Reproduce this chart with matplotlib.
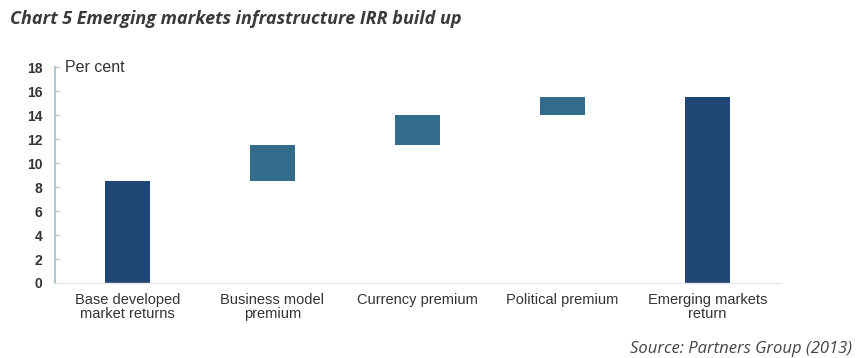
#!/usr/bin/env python3

"""Waterfall chart of the emerging markets infrastructure IRR build up."""

import matplotlib
matplotlib.use("Agg")
import matplotlib.pyplot as plt

categories = ["Base developed\nmarket returns", "Business model\npremium",
              "Currency premium", "Political premium", "Emerging markets\nreturn"]
# size of each step (per cent); first and last are totals drawn from zero
steps = [8.5, 3.0, 2.5, 1.5, 15.5]
is_total = [True, False, False, False, True]
yticks = [0, 2, 4, 6, 8, 10, 12, 14, 16, 18]

DARK = "#1f4674"
LIGHT = "#336b8a"
AXIS = "#a7c2c9"
TEXT = "#333333"


def main():
    plt.rcParams["font.family"] = ["Liberation Sans", "DejaVu Sans"]
    fig = plt.figure(figsize=(8.59, 3.58), dpi=100)
    ax = fig.add_axes([0.064, 0.2095, 0.844, 0.6033])

    running = 0.0
    for i, (step, total) in enumerate(zip(steps, is_total)):
        if total:
            ax.bar(i, step, width=0.31, bottom=0, color=DARK)
            running = step
        else:
            ax.bar(i, step, width=0.31, bottom=running, color=LIGHT)
            running += step

    ax.set_xlim(-0.5, 4.5)
    ax.set_ylim(0, 18)
    ax.set_yticks(yticks)
    ax.set_xticks(range(len(categories)))
    ax.set_xticklabels(categories, fontsize=10.5, color=TEXT, linespacing=1.05)
    ax.tick_params(axis="x", length=0, pad=7)
    ax.tick_params(axis="y", direction="in", length=3, color=AXIS,
                   labelsize=10, labelcolor=TEXT, pad=9)
    for lab in ax.get_yticklabels():
        lab.set_fontweight("bold")

    for side in ["top", "right"]:
        ax.spines[side].set_visible(False)
    ax.spines["left"].set_color(AXIS)
    ax.spines["left"].set_linewidth(1.3)
    ax.spines["bottom"].set_color("#e4e8ea")
    ax.spines["bottom"].set_linewidth(1.0)

    ax.text(0.014, 18, "Per cent", fontsize=11.5, color=TEXT, va="center",
            transform=ax.get_yaxis_transform())

    fig.text(0.012, 0.948, "Chart 5 Emerging markets infrastructure IRR build up",
             fontsize=13, fontstyle="italic", fontweight="bold", color="#3a3a3a",
             va="center", family=["Open Sans", "DejaVu Sans"])
    fig.text(0.992, 0.025, "Source: Partners Group (2013)", fontsize=12,
             fontstyle="italic", color="#444444", ha="right", va="center",
             family=["Open Sans", "DejaVu Sans"])

    fig.savefig("out.png", dpi=100)
    plt.close(fig)


if __name__ == "__main__":
    main()
